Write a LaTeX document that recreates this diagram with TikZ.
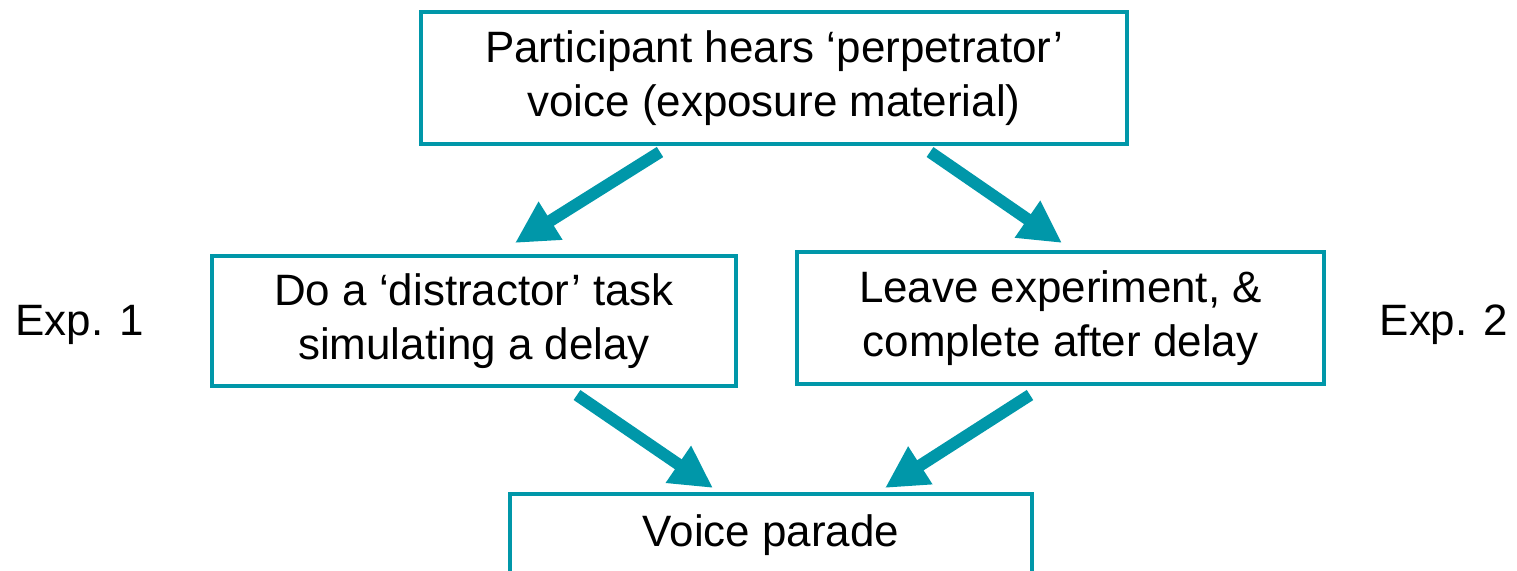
\documentclass[tikz,border=0pt]{standalone}
\usepackage{fontspec}
\setmainfont{Liberation Sans}
\usetikzlibrary{arrows.meta,positioning,calc}
\definecolor{teal}{HTML}{0097A9}

\begin{document}
\begin{tikzpicture}[
          box/.style={draw=teal, line width=2.3pt, fill=white, inner sep=4pt, align=center, font=\fontsize{25}{31}\selectfont},
          lbl/.style={font=\fontsize{25}{31}\selectfont},
          arr/.style={-{Triangle[length=0.84cm, width=0.84cm]}, line width=0.24cm, color=teal}]
        \useasboundingbox (0,0) rectangle (30.34,11.4);
        \clip (0,0) rectangle (30.34,11.4);
        \node[box, minimum width=14.12cm, minimum height=2.64cm] (hear) at (15.48,9.84) {Participant hears `perpetrator'\\ voice (exposure material)};
        \node[box, minimum width=10.48cm, minimum height=2.60cm] (dist) at (9.48,4.98) {Do a `distractor' task\\ simulating a delay};
        \node[box, minimum width=10.54cm, minimum height=2.64cm] (leave) at (21.21,5.04) {Leave experiment, \&\\ complete after delay};
        \node[box, minimum width=10.44cm, minimum height=1.64cm] (parade) at (15.42,0.70) {Voice parade};
        \node[lbl] (exp1) at (1.6,4.9) {Exp. 1};
        \node[lbl] (exp2) at (28.88,4.9) {Exp. 2};
        \draw[arr] ([xshift=-2.28cm,yshift=-0.12cm]hear.south) -- ([xshift=0.82cm,yshift=0.22cm]dist.north);
        \draw[arr] ([xshift=3.12cm,yshift=-0.12cm]hear.south) -- ([xshift=0.03cm,yshift=0.14cm]leave.north);
        \draw[arr] ([xshift=2.06cm,yshift=-0.14cm]dist.south) -- ([xshift=-1.16cm,yshift=0.08cm]parade.north);
        \draw[arr] ([xshift=-0.61cm,yshift=-0.18cm]leave.south) -- ([xshift=2.28cm,yshift=0.08cm]parade.north);
      \end{tikzpicture}
\end{document}
